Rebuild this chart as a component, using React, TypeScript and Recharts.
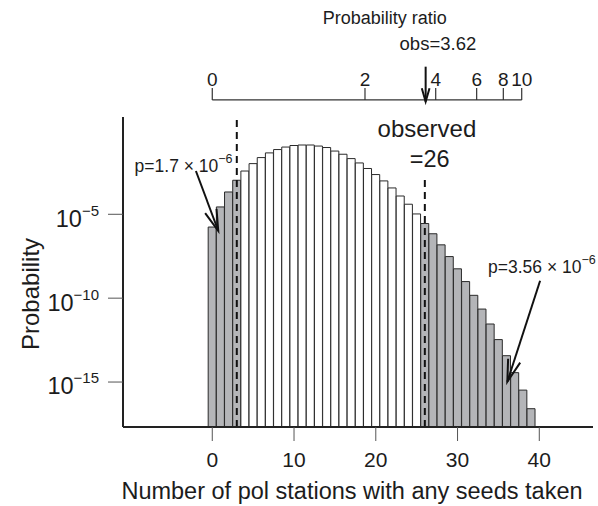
import React from "react";
import { BarChart, Bar, Cell, XAxis, YAxis, ReferenceLine, ReferenceDot } from "recharts";

// ---- data ----
const stations = [0, 1, 2, 3, 4, 5, 6, 7, 8, 9, 10, 11, 12, 13, 14, 15, 16, 17, 18, 19,
  20, 21, 22, 23, 24, 25, 26, 27, 28, 29, 30, 31, 32, 33, 34, 35, 36, 37, 38, 39];
const probability = [
  1.74e-6, 2.75e-5, 2.14e-4, 1.07e-3, 3.8e-3, 1.05e-2, 2.4e-2, 4.57e-2, 7.24e-2, 0.102,
  0.126, 0.135, 0.135, 0.117, 0.0955, 0.0589, 0.038, 0.0209, 0.0115, 5.37e-3,
  2.34e-3, 9.77e-4, 3.72e-4, 1.23e-4, 3.98e-5, 1.05e-5, 2.82e-6, 6.92e-7, 1.51e-7, 3.02e-8,
  5.62e-9, 9.77e-10, 1.48e-10, 2.24e-11, 2.88e-12, 3.39e-13, 3.72e-14, 3.63e-15, 3.31e-16, 2.57e-17,
];
const lowerCut = 3;
const observed = 26;
const xTicks = [0, 10, 20, 30, 40];
const yTickExponents = [-5, -10, -15];
const ratioLabels = ["0", "2", "4", "6", "8", "10"];
const ratioAt = [0, 18.68, 27.33, 32.34, 35.6, 37.85];
const obsRatioLabel = "obs=3.62";
const obsRatioAt = 26.1;
const pLow = { mant: "1.7", exp: "\u22126" };
const pHigh = { mant: "3.56", exp: "\u22126" };

const data = stations.map((s, i) => ({ x: s, p: probability[i] }));

// ---- layout / styles ----
const W = 598;
const H = 506;
const FONT = "'Liberation Sans', Arial, Helvetica, sans-serif";
const INK = "#1c1c1c";
const GRAY = "#b4b5b8";
const X_DOMAIN: [number, number] = [-10.92, 46.57];
const LOG_MIN = -17.68;
const LOG_MAX = 0.8;
const Y_DOMAIN: [number, number] = [Math.pow(10, LOG_MIN), Math.pow(10, LOG_MAX)];
const L = (v: number) => Math.pow(10, v);
// vertical placement of the probability-ratio axis (in log10 units of the y scale)
const RATIO_LINE = 1.816;
const RATIO_TICK_TOP = 2.531;
const RATIO_LABEL = 2.65;

const PowTick = (props: any) => {
  const { x, y, payload } = props;
  const e = Math.round(Math.log10(payload.value));
  return (
    <text x={x} y={y + 12.4} textAnchor="end" fontSize={23.5} fill={INK} fontFamily={FONT}>
      10
      <tspan dy={-11} fontSize={15}>{"\u2212" + Math.abs(e)}</tspan>
    </text>
  );
};

const makeArrow = (head: number, angleDeg: number, width: number) => (p: any) => {
  const { x1, y1, x2, y2 } = p;
  const a = Math.atan2(y1 - y2, x1 - x2);
  const t = (angleDeg * Math.PI) / 180;
  const w1x = x2 + head * Math.cos(a + t);
  const w1y = y2 + head * Math.sin(a + t);
  const w2x = x2 + head * Math.cos(a - t);
  const w2y = y2 + head * Math.sin(a - t);
  return (
    <g>
      <line x1={x1} y1={y1} x2={x2} y2={y2} stroke="#111" strokeWidth={width} />
      <polyline
        points={`${w1x},${w1y} ${x2},${y2} ${w2x},${w2y}`}
        fill="none"
        stroke="#111"
        strokeWidth={width}
        strokeLinejoin="miter"
      />
    </g>
  );
};

const textShape =
  (content: React.ReactNode, size: number, anchor: string = "middle", rotate = 0) =>
  (p: any) => {
    const { cx, cy } = p;
    return (
      <text
        x={cx}
        y={cy}
        textAnchor={anchor as any}
        fontSize={size}
        fill={INK}
        fontFamily={FONT}
        transform={rotate ? `rotate(${rotate} ${cx} ${cy})` : undefined}
      >
        {content}
      </text>
    );
  };

const pText = (v: { mant: string; exp: string }) => (
  <>
    {"p=" + v.mant + " \u00d7 10"}
    <tspan dy={-9} fontSize={12.5}>{v.exp}</tspan>
  </>
);

export default function App() {
  return (
    <div style={{ width: W, height: H, fontFamily: FONT }}>
      <style>{"body{margin:0;overflow:hidden;background:#fff}"}</style>
      <BarChart
        width={W}
        height={H}
        data={data}
        margin={{ top: 117, right: 5, bottom: 0, left: 0 }}
        barCategoryGap={0}
        barGap={0}
      >
        <XAxis
          dataKey="x"
          type="number"
          domain={X_DOMAIN}
          allowDataOverflow
          ticks={xTicks}
          height={79}
          tickSize={14}
          tickMargin={11}
          axisLine={{ stroke: "#222", strokeWidth: 2 }}
          tickLine={{ stroke: "#555", strokeWidth: 1 }}
          tick={{ fontSize: 21, fill: INK, fontFamily: FONT }}
        />
        <YAxis
          type="number"
          scale="log"
          domain={Y_DOMAIN}
          allowDataOverflow
          ticks={yTickExponents.map((e) => L(e))}
          width={123}
          tickSize={15}
          tickMargin={9}
          axisLine={{ stroke: "#222", strokeWidth: 2 }}
          tickLine={{ stroke: "#555", strokeWidth: 1 }}
          tick={<PowTick />}
          interval={0}
        />
        <Bar dataKey="p" isAnimationActive={false} stroke="#2a2a2a" strokeWidth={1}>
          {data.map((d) => (
            <Cell key={d.x} fill={d.x <= lowerCut || d.x >= observed ? GRAY : "#ffffff"} />
          ))}
        </Bar>

        <ReferenceLine x={lowerCut} stroke="#111" strokeWidth={2} strokeDasharray="7 5" ifOverflow="visible" />
        <ReferenceLine
          segment={[{ x: observed, y: L(-2.95) }, { x: observed, y: Y_DOMAIN[0] }]}
          stroke="#111"
          strokeWidth={2}
          strokeDasharray="7 5"
          ifOverflow="visible"
        />

        {/* probability ratio axis: line, ticks, labels */}
        <ReferenceLine
          segment={[{ x: ratioAt[0], y: L(RATIO_LINE) }, { x: ratioAt[ratioAt.length - 1], y: L(RATIO_LINE) }]}
          stroke="#333"
          strokeWidth={1.2}
          ifOverflow="visible"
        />
        {ratioAt.map((r, i) => (
          <ReferenceLine
            key={"rt" + i}
            segment={[{ x: r, y: L(RATIO_LINE) }, { x: r, y: L(RATIO_TICK_TOP) }]}
            stroke="#333"
            strokeWidth={1.2}
            ifOverflow="visible"
          />
        ))}
        {ratioAt.map((r, i) => (
          <ReferenceDot
            key={"rl" + i}
            x={r}
            y={L(RATIO_LABEL)}
            ifOverflow="visible"
            shape={textShape(ratioLabels[i], 19)}
          />
        ))}
        {/* obs arrow */}
        <ReferenceLine
          segment={[{ x: obsRatioAt, y: L(3.8) }, { x: obsRatioAt, y: L(1.71) }]}
          ifOverflow="visible"
          shape={makeArrow(14, 16, 2)}
        />
        {/* p annotations arrows */}
        <ReferenceLine
          segment={[{ x: -2.0, y: L(-2.42) }, { x: 0.73, y: L(-5.98) }]}
          ifOverflow="visible"
          shape={makeArrow(22, 16, 2)}
        />
        <ReferenceLine
          segment={[{ x: 40.1, y: L(-8.96) }, { x: 36.09, y: L(-14.98) }]}
          ifOverflow="visible"
          shape={makeArrow(23, 16, 2)}
        />

        {/* texts */}
        <ReferenceDot x={21.1} y={L(6.33)} ifOverflow="visible" shape={textShape("Probability ratio", 18)} />
        <ReferenceDot x={27.6} y={L(4.8)} ifOverflow="visible" shape={textShape(obsRatioLabel, 18.5)} />
        <ReferenceDot x={26.26} y={L(-0.41)} ifOverflow="visible" shape={textShape("observed", 24)} />
        <ReferenceDot x={26.6} y={L(-2.16)} ifOverflow="visible" shape={textShape("=" + observed, 23.5)} />
        <ReferenceDot x={-9.5} y={L(-2.48)} ifOverflow="visible" shape={textShape(pText(pLow), 17.5, "start")} />
        <ReferenceDot x={33.73} y={L(-8.5)} ifOverflow="visible" shape={textShape(pText(pHigh), 17.5, "start")} />
        <ReferenceDot
          x={17.09}
          y={L(-21.98)}
          ifOverflow="visible"
          shape={textShape("Number of pol stations with any seeds taken", 23.5)}
        />
        <ReferenceDot
          x={-21.2}
          y={L(-9.75)}
          ifOverflow="visible"
          shape={textShape("Probability", 24, "middle", -90)}
        />
      </BarChart>
    </div>
  );
}
